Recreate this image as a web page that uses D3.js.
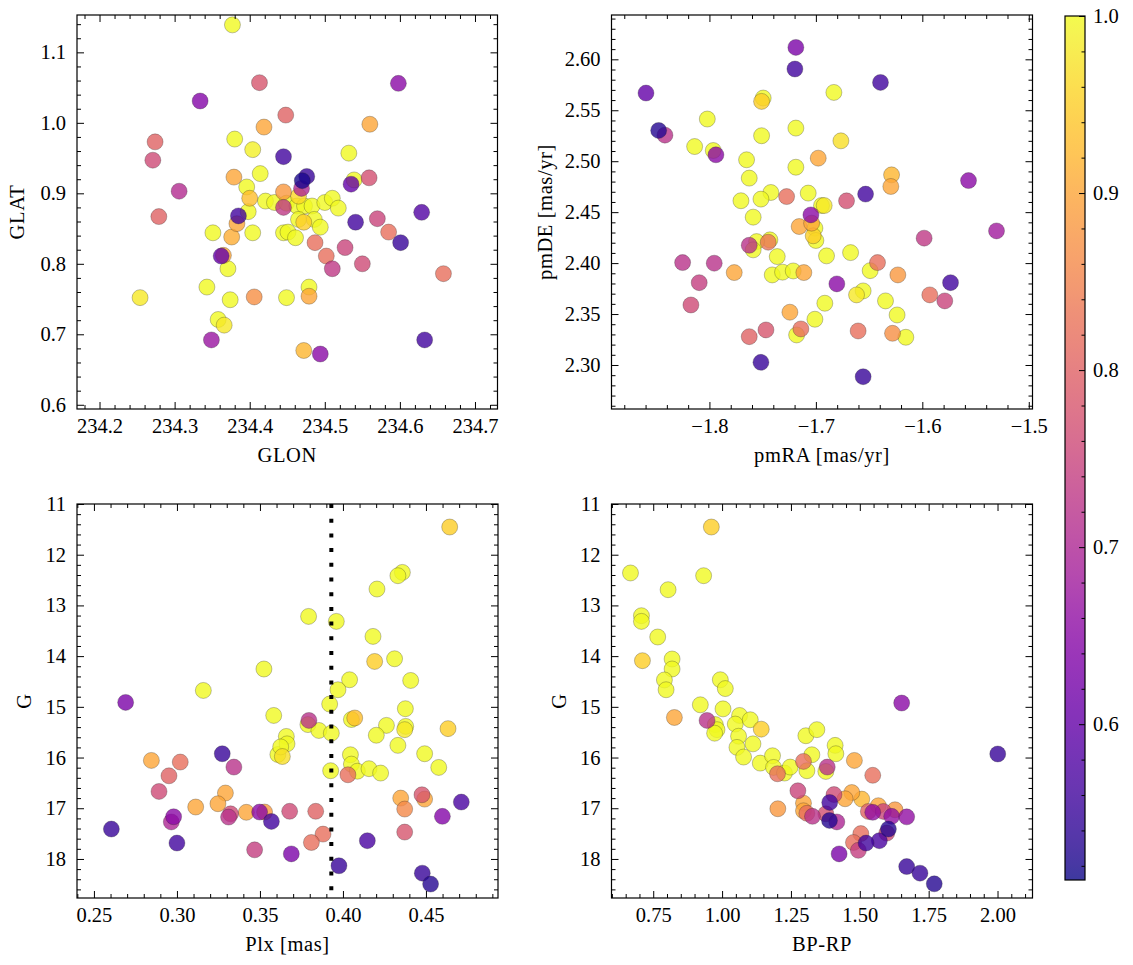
<!DOCTYPE html>
<html><head><meta charset="utf-8">
<script src="https://cdn.jsdelivr.net/npm/d3@7"></script>
<style>body{margin:0;background:#fff}svg{display:block}text{font-family:"Liberation Serif","DejaVu Serif",serif;fill:#000}</style>
</head><body><svg id="c" width="1133" height="965"></svg>
<script>
// ---------- Panel 1: GLON vs GLAT ----------
const glon = [234.377,234.413,234.334,234.448,234.419,234.274,234.380,234.404,234.271,234.445,
 234.414,234.379,234.396,234.306,234.400,234.421,234.433,234.445,234.445,234.398,
 234.385,234.383,234.279,234.351,234.376,234.404,234.445,234.451,234.365,234.362,
 234.371,234.343,234.254,234.374,234.406,234.449,234.358,234.366,234.349,234.532,
 234.476,234.470,234.539,234.535,234.559,234.469,234.465,234.449,234.463,234.473,
 234.483,234.500,234.510,234.518,234.541,234.570,234.465,234.472,234.486,234.494,
 234.461,234.487,234.527,234.502,234.510,234.550,234.479,234.479,234.598,234.560,
 234.629,234.585,234.601,234.658,234.633,234.472,234.494];
const glat = [1.139,1.057,1.031,1.011,0.994,0.973,0.977,0.962,0.947,0.952,
 0.928,0.923,0.909,0.903,0.893,0.889,0.887,0.902,0.880,0.874,
 0.868,0.857,0.867,0.844,0.838,0.844,0.844,0.845,0.812,0.811,
 0.793,0.767,0.752,0.749,0.753,0.752,0.721,0.713,0.692,0.957,
 0.924,0.918,0.919,0.913,0.922,0.907,0.896,0.886,0.882,0.882,
 0.882,0.887,0.893,0.879,0.859,0.864,0.863,0.859,0.863,0.852,
 0.837,0.830,0.823,0.811,0.793,0.800,0.767,0.754,1.056,0.998,
 0.873,0.845,0.830,0.786,0.692,0.677,0.672];
const prob1 = [1.0,0.78,0.64,0.80,0.90,0.80,1.0,0.99,0.76,0.56,
 1.0,0.90,1.0,0.71,0.93,1.0,1.0,0.88,0.73,1.0,
 0.56,0.90,0.80,1.0,0.91,1.0,1.0,1.0,0.90,0.60,
 1.0,1.0,0.98,1.0,0.87,1.0,1.0,0.98,0.67,1.0,
 0.55,0.52,1.0,0.60,0.77,0.70,0.96,1.0,1.0,1.0,
 1.0,1.0,1.0,1.0,0.56,0.75,1.0,0.95,1.0,1.0,
 1.0,0.82,0.75,0.82,0.73,0.76,1.0,0.90,0.65,0.90,
 0.58,0.82,0.55,0.82,0.56,0.92,0.65];

// ---------- Panel 2: pmRA vs pmDE ----------
const pmra = [-1.7188,-1.7197,-1.8596,-1.7495,-1.7510,-1.8020,-1.8477,-1.8418,-1.7188,-1.7510,
 -1.8139,-1.7964,-1.7939,-1.7651,-1.7188,-1.7626,-1.7423,-1.7275,-1.7072,-1.7704,
 -1.7516,-1.7589,-1.7047,-1.7157,-1.7040,-1.7009,-1.7025,-1.7000,-1.7432,-1.7448,
 -1.7557,-1.7589,-1.7626,-1.7363,-1.8252,-1.7955,-1.7767,-1.7410,-1.7313,-1.7213,
 -1.7113,-1.8096,-1.8174,-1.7244,-1.7009,-1.7469,-1.7626,-1.7181,-1.7141,-1.7516,
 -1.6978,-1.6289,-1.6296,-1.6712,-1.6533,-1.6947,-1.6922,-1.6900,-1.6674,-1.6421,
 -1.6490,-1.6230,-1.6803,-1.6618,-1.6556,-1.6346,-1.6237,-1.6155,-1.6280,-1.6603,
 -1.6916,-1.6393,-1.6831,-1.6765,-1.5566,-1.5303,-1.5983,-1.5735,-1.5930,-1.5789,-1.6556];
const pmde = [2.6117,2.5905,2.5669,2.5620,2.5587,2.5414,2.5302,2.5256,2.5325,2.5250,
 2.5144,2.5105,2.5063,2.5014,2.4941,2.4834,2.4693,2.4653,2.4687,2.4612,
 2.4628,2.4451,2.4473,2.4359,2.4392,2.4343,2.4268,2.4222,2.4228,2.4205,
 2.4211,2.4130,2.4175,2.4064,2.4005,2.3999,2.3907,2.3884,2.3911,2.3923,
 2.3907,2.3808,2.3589,2.3518,2.3449,2.3344,2.3278,2.3295,2.3354,2.3026,
 2.5030,2.4866,2.4752,2.4611,2.4677,2.4565,2.4565,2.4071,2.4103,2.4005,
 2.3926,2.3884,2.3796,2.3688,2.3727,2.3629,2.3491,2.3272,2.3311,2.3334,
 2.3606,2.5773,2.5675,2.5200,2.4810,2.4316,2.4245,2.3808,2.3688,2.3629,2.2885];
const prob2 = [0.63,0.56,0.60,1.0,0.95,1.0,0.53,0.72,1.0,1.0,
 1.0,1.0,0.65,1.0,1.0,1.0,1.0,0.82,1.0,1.0,
 1.0,1.0,0.65,0.90,0.90,1.0,0.95,1.0,1.0,0.83,
 1.0,1.0,0.72,1.0,0.72,0.72,0.90,1.0,1.0,1.0,
 0.90,0.74,0.76,0.90,1.0,0.78,0.80,1.0,0.82,0.55,
 0.90,0.92,0.90,0.77,0.56,1.0,0.98,1.0,1.0,0.82,
 1.0,0.88,0.65,0.98,1.0,1.0,1.0,1.0,0.87,0.82,
 1.0,0.56,1.0,0.97,0.65,0.68,0.73,0.56,0.82,0.75,0.55];

// ---------- Panel 3: Plx vs G ----------
const plx = [0.2691,0.3159,0.3524,0.3583,0.2846,0.3020,0.3273,0.3343,0.2952,0.2892,
 0.3292,0.3247,0.3113,0.2980,0.2966,0.2605,0.3000,0.3311,0.3323,0.3418,
 0.3528,0.3498,0.3569,0.3468,0.3679,0.3689,0.3608,0.3635,0.3659,0.3663,
 0.3625,0.4643,0.4358,0.4331,0.4205,0.3793,0.3960,0.4181,0.4191,0.4311,
 0.4408,0.4040,0.3970,0.3920,0.4376,0.4071,0.4051,0.4262,0.4378,0.4372,
 0.4633,0.4201,0.3789,0.3795,0.3855,0.3930,0.4331,0.4045,0.4051,0.4087,
 0.4157,0.4227,0.3926,0.4030,0.4492,0.4577,0.4348,0.4372,0.4492,0.4476,
 0.4713,0.4599,0.3836,0.3880,0.3810,0.4372,0.4147,0.3976,0.4478,0.4528];
const gmag3 = [14.913,14.677,14.254,15.170,16.057,16.089,15.925,16.188,16.360,16.669,
 16.700,16.911,16.976,17.168,17.270,17.410,17.686,17.174,17.110,17.080,
 17.075,17.075,17.260,17.820,17.060,17.900,15.940,15.980,15.584,15.730,
 15.790,11.454,12.349,12.414,12.677,13.217,13.315,13.611,14.105,14.052,
 14.480,14.466,14.663,14.945,15.037,15.220,15.250,15.366,15.386,15.450,
 15.430,15.560,15.350,15.268,15.466,15.520,15.760,15.945,16.130,16.270,
 16.220,16.306,16.260,16.340,15.925,16.195,16.800,17.016,16.820,16.734,
 16.878,17.160,17.060,17.510,17.675,17.470,17.640,18.134,18.280,18.495];
const prob3 = [0.63,1.0,1.0,1.0,0.90,0.82,0.55,0.72,0.80,0.76,
 0.90,0.90,0.90,0.65,0.70,0.55,0.56,0.72,0.76,0.90,
 0.88,0.65,0.56,0.74,0.76,0.63,1.0,0.97,1.0,1.0,
 1.0,0.95,1.0,1.0,1.0,1.0,1.0,1.0,0.95,1.0,
 1.0,1.0,1.0,1.0,1.0,0.93,1.0,1.0,1.0,0.98,
 0.95,1.0,1.0,0.72,1.0,1.0,1.0,1.0,1.0,1.0,
 1.0,1.0,1.0,0.82,1.0,1.0,0.90,0.86,0.90,0.78,
 0.57,0.64,0.80,0.82,0.82,0.78,0.57,0.55,0.55,0.53];
const plxCut = 0.393;

// ---------- Panel 4: BP-RP vs G ----------
const bprp = [0.961,0.6674,0.933,0.804,0.7072,0.7072,0.7663,0.7108,0.8185,0.8185,
 0.7906,0.7967,0.9936,1.0117,0.921,1.0033,0.8268,0.9454,0.9754,0.9815,
 0.9729,1.0635,1.0479,1.1023,1.0599,1.1121,1.054,1.078,1.1422,1.1386,
 1.1831,1.1868,1.2266,1.2473,1.2012,1.2024,1.3042,1.3441,1.326,1.3079,
 1.2955,1.2752,1.2955,1.2955,1.3079,1.3282,1.652,1.4104,1.413,1.4803,
 1.547,1.3818,1.3767,1.3767,1.4063,1.3907,1.3898,1.4166,1.4709,1.4466,
 1.5071,1.5673,1.531,1.547,1.5854,1.6278,1.6158,1.6702,1.5979,1.6038,
 1.5037,1.4769,1.4948,1.5227,1.5709,1.4249,1.6702,1.7185,1.7703,2.0008];
const gmag4 = [11.454,12.36,12.414,12.69,13.203,13.315,13.623,14.09,14.057,14.254,
 14.47,14.663,14.466,14.64,14.96,15.04,15.21,15.268,15.35,15.45,
 15.52,15.17,15.34,15.255,15.58,15.73,15.8,15.99,15.44,16.11,
 15.965,16.195,16.306,16.188,16.32,17.01,15.57,15.45,15.945,16.26,
 16.076,16.655,16.9,17.05,17.1,17.16,14.925,15.76,15.925,16.057,
 16.35,16.188,16.274,17.11,16.73,16.886,17.24,17.27,16.69,16.813,
 16.82,16.95,17.063,17.08,17.063,17.03,17.16,17.17,17.49,17.41,
 17.5,17.675,17.83,17.686,17.64,17.90,18.15,18.28,18.49,15.93];
const prob4 = [0.95,1.0,1.0,1.0,1.0,1.0,1.0,0.95,1.0,1.0,
 1.0,1.0,1.0,1.0,1.0,1.0,0.90,0.72,1.0,1.0,
 1.0,1.0,1.0,1.0,1.0,1.0,1.0,1.0,0.95,1.0,
 1.0,1.0,1.0,1.0,0.82,0.88,1.0,1.0,1.0,1.0,
 0.82,0.75,0.90,0.90,0.82,0.72,0.65,1.0,1.0,0.90,
 0.82,0.72,1.0,0.77,0.76,0.56,0.53,0.70,0.90,0.90,
 0.92,0.90,0.80,0.66,0.75,0.88,0.66,0.66,0.76,0.53,
 0.82,0.82,0.74,0.56,0.57,0.63,0.55,0.55,0.53,0.55];

// ---------- Tick labels ----------
const glonTicks = [234.2,234.3,234.4,234.5,234.6,234.7];
const glatTicks = [0.6,0.7,0.8,0.9,1.0,1.1];
const pmraTicks = [-1.8,-1.7,-1.6,-1.5];
const pmdeTicks = [2.30,2.35,2.40,2.45,2.50,2.55,2.60];
const plxTicks = [0.25,0.30,0.35,0.40,0.45];
const gTicks = [11,12,13,14,15,16,17,18];
const bprpTicks = [0.75,1.00,1.25,1.50,1.75,2.00];
const cbarTicks = [0.6,0.7,0.8,0.9,1.0];
const cbarMin = 0.512, cbarMax = 1.0;

// ---------- drawing ----------
const FONT = '"Liberation Serif","DejaVu Serif",serif';
const svg = d3.select("#c").attr("font-family", FONT);
const color = p => d3.interpolatePlasma((p - cbarMin) / (cbarMax - cbarMin));
const FS = 20.5;

function minorTicks(domain, step, majors) {
  const lo = Math.min(...domain), hi = Math.max(...domain);
  const out = [];
  for (let i = Math.ceil(lo / step - 1e-9); i * step <= hi + 1e-9; i++) {
    const v = +(i * step).toFixed(6);
    if (!majors.some(m => Math.abs(m - v) < step / 10)) out.push(v);
  }
  return out;
}

function styleAxis(g) {
  g.attr("font-family", FONT).attr("font-size", FS);
  g.select(".domain").remove();
  g.selectAll(".tick line").attr("stroke", "#000").attr("stroke-width", 1);
  g.selectAll(".tick text").attr("font-family", FONT).style("font-family", FONT).style("font-size", FS + "px").attr("fill", "#000");
}

function panel(c) {
  const x = d3.scaleLinear().domain(c.xDomain).range([c.x0, c.x1]);
  const y = d3.scaleLinear().domain(c.yDomain).range([c.y1, c.y0]);
  const g = svg.append("g");
  const xMinor = minorTicks(c.xDomain, c.xStep, c.xTicks);
  const yMinor = minorTicks(c.yDomain, c.yStep, c.yTicks);
  const MJ = 7, MN = 4;

  // points, low probability drawn last (on top)
  const idx = d3.range(c.xs.length).sort((a, b) => c.ps[b] - c.ps[a]);
  g.append("g").selectAll("circle").data(idx).join("circle")
    .attr("cx", i => x(c.xs[i])).attr("cy", i => y(c.ys[i])).attr("r", 8)
    .attr("fill", i => color(c.ps[i])).attr("fill-opacity", 0.8)
    .attr("stroke", "#222").attr("stroke-opacity", 0.55).attr("stroke-width", 0.5);

  if (c.vline !== undefined) {
    g.append("line").attr("x1", x(c.vline)).attr("x2", x(c.vline))
      .attr("y1", c.y0).attr("y2", c.y1)
      .attr("stroke", "#000").attr("stroke-width", 4).attr("stroke-dasharray", "4,10.7");
  }

  const fx = d3.format(c.xFmt), fy = d3.format(c.yFmt);
  g.append("g").attr("transform", `translate(0,${c.y1})`)
    .call(d3.axisBottom(x).tickValues(c.xTicks).tickSize(-MJ).tickPadding(9).tickFormat(fx)).call(styleAxis);
  g.append("g").attr("transform", `translate(0,${c.y1})`)
    .call(d3.axisBottom(x).tickValues(xMinor).tickSize(-MN).tickFormat("")).call(styleAxis);
  g.append("g").attr("transform", `translate(0,${c.y0})`)
    .call(d3.axisTop(x).tickValues(c.xTicks).tickSize(-MJ).tickFormat("")).call(styleAxis);
  g.append("g").attr("transform", `translate(0,${c.y0})`)
    .call(d3.axisTop(x).tickValues(xMinor).tickSize(-MN).tickFormat("")).call(styleAxis);
  g.append("g").attr("transform", `translate(${c.x0},0)`)
    .call(d3.axisLeft(y).tickValues(c.yTicks).tickSize(-MJ).tickPadding(11).tickFormat(fy)).call(styleAxis);
  g.append("g").attr("transform", `translate(${c.x0},0)`)
    .call(d3.axisLeft(y).tickValues(yMinor).tickSize(-MN).tickFormat("")).call(styleAxis);
  g.append("g").attr("transform", `translate(${c.x1},0)`)
    .call(d3.axisRight(y).tickValues(c.yTicks).tickSize(-MJ).tickFormat("")).call(styleAxis);
  g.append("g").attr("transform", `translate(${c.x1},0)`)
    .call(d3.axisRight(y).tickValues(yMinor).tickSize(-MN).tickFormat("")).call(styleAxis);

  g.append("rect").attr("x", c.x0).attr("y", c.y0).attr("width", c.x1 - c.x0).attr("height", c.y1 - c.y0)
    .attr("fill", "none").attr("stroke", "#000").attr("stroke-width", 1.2);

  g.append("text").attr("x", (c.x0 + c.x1) / 2).attr("y", c.y1 + 46).attr("dy", "0.35em")
    .attr("text-anchor", "middle").attr("font-family", FONT).style("font-size", FS + "px").style("letter-spacing", "0.6px").text(c.xLabel);
  g.append("text").attr("transform", `translate(${c.yLabelX},${(c.y0 + c.y1) / 2}) rotate(-90)`)
    .attr("dy", "0.35em").attr("text-anchor", "middle").attr("font-family", FONT).style("font-size", FS + "px").style("letter-spacing", "0.6px").text(c.yLabel);
}

panel({x0: 77, x1: 497.5, y0: 15, y1: 409, xDomain: [234.17, 234.73], yDomain: [0.594, 1.153],
  xs: glon, ys: glat, ps: prob1, xTicks: glonTicks, yTicks: glatTicks, xStep: 0.02, yStep: 0.02,
  xFmt: ".1f", yFmt: ".1f", xLabel: "GLON", yLabel: "GLAT", yLabelX: 17});
panel({x0: 611.5, x1: 1032.5, y0: 15, y1: 409, xDomain: [-1.892, -1.4965], yDomain: [2.2568, 2.6435],
  xs: pmra, ys: pmde, ps: prob2, xTicks: pmraTicks, yTicks: pmdeTicks, xStep: 0.02, yStep: 0.01,
  xFmt: ".1f", yFmt: ".2f", xLabel: "pmRA [mas/yr]", yLabel: "pmDE [mas/yr]", yLabelX: 545});
panel({x0: 77, x1: 498, y0: 504, y1: 898, xDomain: [0.2398, 0.4934], yDomain: [18.77, 11],
  xs: plx, ys: gmag3, ps: prob3, xTicks: plxTicks, yTicks: gTicks, xStep: 0.01, yStep: 0.2,
  xFmt: ".2f", yFmt: "d", xLabel: "Plx [mas]", yLabel: "G", yLabelX: 24, vline: plxCut});
panel({x0: 611.5, x1: 1032.5, y0: 504, y1: 898, xDomain: [0.5985, 2.127], yDomain: [18.77, 11],
  xs: bprp, ys: gmag4, ps: prob4, xTicks: bprpTicks, yTicks: gTicks, xStep: 0.05, yStep: 0.2,
  xFmt: ".2f", yFmt: "d", xLabel: "BP-RP", yLabel: "G", yLabelX: 559});

// ---------- colorbar ----------
const cb = {x: 1065, y0: 16, y1: 880, w: 20};
const cy = d3.scaleLinear().domain([cbarMin, cbarMax]).range([cb.y1, cb.y0]);
const grad = svg.append("defs").append("linearGradient").attr("id", "cbg")
  .attr("x1", 0).attr("y1", 1).attr("x2", 0).attr("y2", 0);
grad.selectAll("stop").data(d3.range(0, 1.0001, 0.02)).join("stop")
  .attr("offset", t => t).attr("stop-color", t => d3.interpolatePlasma(t));
svg.append("rect").attr("x", cb.x).attr("y", cb.y0).attr("width", cb.w).attr("height", cb.y1 - cb.y0)
  .attr("fill", "url(#cbg)").attr("fill-opacity", 0.8);
const cbMinor = minorTicks([cbarMin, cbarMax], 0.02, cbarTicks);
svg.append("g").attr("transform", `translate(${cb.x + cb.w},0)`)
  .call(d3.axisRight(cy).tickValues(cbarTicks).tickSize(-6).tickPadding(8).tickFormat(d3.format(".1f"))).call(styleAxis);
svg.append("g").attr("transform", `translate(${cb.x + cb.w},0)`)
  .call(d3.axisRight(cy).tickValues(cbMinor).tickSize(-3.5).tickFormat("")).call(styleAxis);
svg.append("rect").attr("x", cb.x).attr("y", cb.y0).attr("width", cb.w).attr("height", cb.y1 - cb.y0)
  .attr("fill", "none").attr("stroke", "#000").attr("stroke-width", 1.2);
</script>
</body></html>
